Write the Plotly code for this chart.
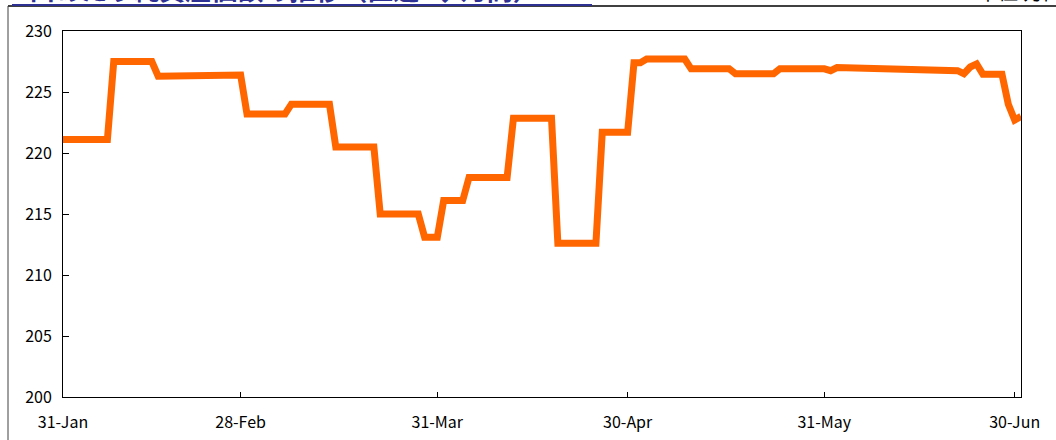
import plotly.graph_objects as go

# ---- data ----
dates = [
    "2023-01-31", "2023-02-07", "2023-02-08", "2023-02-14", "2023-02-15",
    "2023-02-21", "2023-02-22", "2023-02-28", "2023-03-01", "2023-03-07",
    "2023-03-08", "2023-03-14", "2023-03-15", "2023-03-21", "2023-03-22",
    "2023-03-28", "2023-03-29", "2023-03-31", "2023-04-01", "2023-04-04",
    "2023-04-05", "2023-04-11", "2023-04-12", "2023-04-18", "2023-04-19",
    "2023-04-25", "2023-04-26", "2023-04-30", "2023-05-01", "2023-05-02",
    "2023-05-03", "2023-05-09", "2023-05-10", "2023-05-16", "2023-05-17",
    "2023-05-23", "2023-05-24", "2023-05-31", "2023-06-01", "2023-06-02",
    "2023-06-21", "2023-06-22", "2023-06-23", "2023-06-24", "2023-06-25",
    "2023-06-28", "2023-06-29", "2023-06-30", "2023-07-01",
]
nav_values = [
    221.1, 221.1, 227.5, 227.5, 226.3,
    226.3, 226.4, 226.4, 223.2, 223.2,
    224.0, 224.0, 220.5, 220.5, 215.0,
    215.0, 213.1, 213.1, 216.1, 216.1,
    218.0, 218.0, 222.85, 222.85, 212.6,
    212.6, 221.7, 221.7, 227.4, 227.4,
    227.7, 227.7, 226.9, 226.9, 226.5,
    226.5, 226.9, 226.9, 226.75, 227.0,
    226.75, 226.5, 227.05, 227.3, 226.45,
    226.45, 224.0, 222.7, 223.0,
]
x_tick_dates = ["2023-01-31", "2023-02-28", "2023-03-31", "2023-04-30",
                "2023-05-31", "2023-06-30"]
x_range = ["2023-01-31", "2023-07-01"]
y_ticks = [200, 205, 210, 215, 220, 225, 230]
title_text = "1口あたり純資産価額の推移（直近5ヶ月間）"
unit_text = "単位:万円"

# ---- layout geometry ----
W, H = 1056, 440
L, R, T, B = 63, 35, 31, 43
pw, ph = W - L - R, H - T - B


def px_x(p):
    return (p - L) / pw


def px_y(p):
    return (H - B - p) / ph


FONT = "Noto Sans CJK JP, Noto Sans, sans-serif"

fig = go.Figure()
fig.add_trace(go.Scatter(
    x=dates, y=nav_values, mode="lines",
    line=dict(color="#FF6600", width=7),
    hoverinfo="x+y",
))

fig.update_layout(
    width=W, height=H,
    margin=dict(l=L, r=R, t=T, b=B, pad=0, autoexpand=False),
    paper_bgcolor="white", plot_bgcolor="white",
    showlegend=False,
    font=dict(family=FONT, size=16, color="black"),
    xaxis=dict(
        type="date", range=x_range, automargin=False,
        tickvals=x_tick_dates, tickformat="%d-%b",
        ticks="inside", ticklen=5, tickcolor="black", tickwidth=1,
        showgrid=False, zeroline=False,
        showline=True, linecolor="black", linewidth=1, mirror=True,
        ticklabelstandoff=11,
        tickfont=dict(family=FONT, size=16, color="black"),
    ),
    yaxis=dict(
        range=[200, 230], tickvals=y_ticks, automargin=False,
        ticks="inside", ticklen=6, tickcolor="black", tickwidth=1,
        showgrid=False, zeroline=False,
        showline=True, linecolor="black", linewidth=1, mirror=True,
        ticklabelstandoff=7,
        tickfont=dict(family=FONT, size=16, color="black"),
    ),
    shapes=[
        # outer frame top border
        dict(type="line", xref="paper", yref="paper",
             x0=px_x(8), x1=px_x(1060), y0=px_y(6), y1=px_y(6),
             line=dict(color="#404040", width=2)),
        # outer frame left border
        dict(type="line", xref="paper", yref="paper",
             x0=px_x(8), x1=px_x(8), y0=px_y(6), y1=px_y(445),
             line=dict(color="#404040", width=1)),
        # title underline
        dict(type="line", xref="paper", yref="paper",
             x0=px_x(12), x1=px_x(592), y0=px_y(5), y1=px_y(5),
             line=dict(color="#2E3192", width=2)),
    ],
    annotations=[
        dict(text="<b>" + title_text + "</b>", xref="paper", yref="paper",
             x=px_x(12), y=px_y(9), xanchor="left", yanchor="bottom",
             showarrow=False,
             font=dict(family=FONT, size=26, color="#2E3192")),
        dict(text=unit_text, xref="paper", yref="paper",
             x=px_x(1066), y=px_y(8), xanchor="right", yanchor="bottom",
             showarrow=False,
             font=dict(family=FONT, size=20, color="black")),
    ],
)

fig.write_html("out.html", config={"displayModeBar": False},
               post_script="document.body.style.margin='0';")
